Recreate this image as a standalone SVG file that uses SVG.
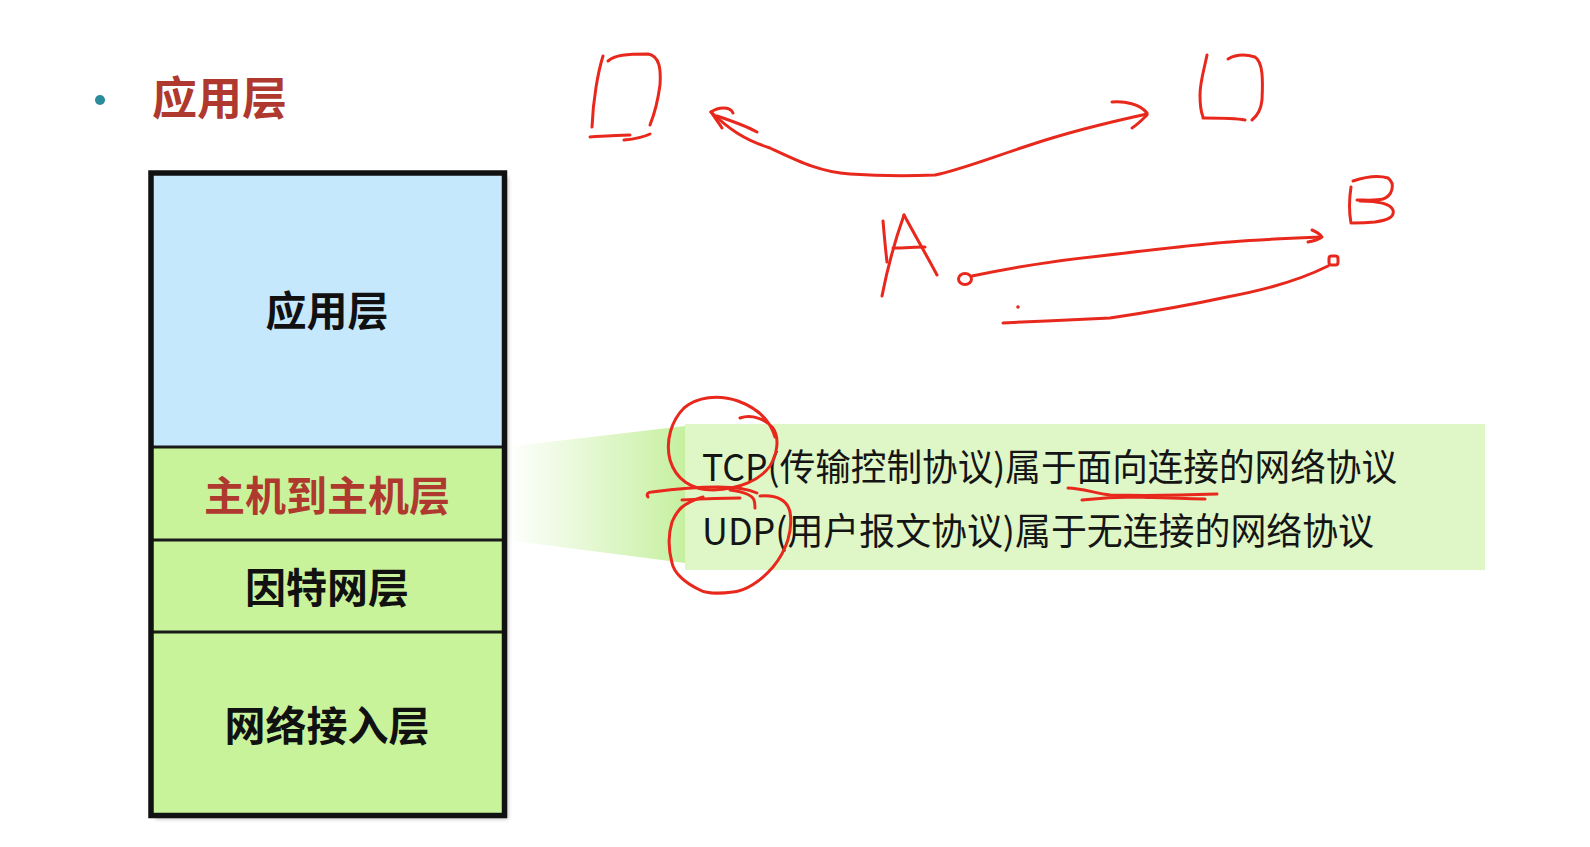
<svg xmlns="http://www.w3.org/2000/svg" width="1590" height="847" viewBox="0 0 1590 847">
  <style>
    .layer-label { font-family: "Noto Sans CJK SC", "Noto Sans", sans-serif; font-weight: 700; font-size: 41px; text-anchor: middle; dominant-baseline: central; fill: #111; }
    .red-label { fill: #B0392F; }
    .desc { font-family: "Noto Sans CJK SC", "Noto Sans", sans-serif; font-size: 37px; fill: #151515; }
    .ink { fill: none; stroke: #E8281C; stroke-width: 3; stroke-linecap: round; stroke-linejoin: round; }
    .divider { stroke: #1a1a1a; stroke-width: 3; }
  </style>
  <defs>
    <linearGradient id="wedge" x1="0" y1="0" x2="1" y2="0">
      <stop offset="0" stop-color="#C6F0A0" stop-opacity="0"/>
      <stop offset="1" stop-color="#C6F0A0" stop-opacity="1"/>
    </linearGradient>
    <filter id="shadow" x="-10%" y="-10%" width="120%" height="120%">
      <feGaussianBlur stdDeviation="2"/>
    </filter>
  </defs>
  <rect width="1590" height="847" fill="#ffffff"/>

  <!-- title -->
  <g id="title">
    <circle cx="100" cy="100" r="5" fill="#2A8C9A"/>
    <text x="152" y="95" font-family="Noto Sans CJK SC, sans-serif" font-weight="700" font-size="45" fill="#B0392F" dominant-baseline="central">应用层</text>
  </g>

  <!-- callout band -->
  <g id="callout">
    <polygon points="506,447 685,426 685,563 506,540" fill="url(#wedge)"/>
    <rect x="685" y="424" width="800" height="146" fill="#DFF7C6"/>
    <text class="desc" x="702" y="481" textLength="695" lengthAdjust="spacingAndGlyphs">TCP(传输控制协议)属于面向连接的网络协议</text>
    <text class="desc" x="702" y="545" textLength="672" lengthAdjust="spacingAndGlyphs">UDP(用户报文协议)属于无连接的网络协议</text>
  </g>

  <!-- layer stack -->
  <g id="stack">
    <rect x="155" y="177" width="353" height="642" fill="#000" opacity="0.25" filter="url(#shadow)"/>
    <g id="node-app">
      <rect x="151" y="173" width="353.5" height="274" fill="#C5E8FC"/>
      <text class="layer-label" x="327" y="308">应用层</text>
    </g>
    <g id="node-host">
      <rect x="151" y="447" width="353.5" height="93" fill="#C9F39B"/>
      <text class="layer-label red-label" x="327" y="493">主机到主机层</text>
    </g>
    <g id="node-internet">
      <rect x="151" y="540" width="353.5" height="92" fill="#C9F39B"/>
      <text class="layer-label" x="327" y="585">因特网层</text>
    </g>
    <g id="node-netaccess">
      <rect x="151" y="632" width="353.5" height="183.5" fill="#C9F39B"/>
      <text class="layer-label" x="327" y="723">网络接入层</text>
    </g>
    <line class="divider" x1="151" y1="447" x2="504.5" y2="447"/>
    <line class="divider" x1="151" y1="540" x2="504.5" y2="540"/>
    <line class="divider" x1="151" y1="632" x2="504.5" y2="632"/>
    <rect x="151" y="173" width="353.5" height="642.5" fill="none" stroke="#111" stroke-width="5.5"/>
  </g>

  <!-- handwritten annotations -->
  <g id="connectors">
    <!-- left D -->
    <path class="ink" d="M603,56 C598,72 593,100 592,127"/>
    <path class="ink" d="M608,61 C615,55 626,54 648,54 C660,56 661,70 660,85 C658,100 654,115 650,125"/>
    <path class="ink" d="M590,137 C605,136 618,135 630,135"/>
    <path class="ink" d="M624,140 C635,139 644,137 650,134"/>
    <!-- double-headed curved arrow -->
    <path class="ink" d="M711,112 C730,130 745,140 770,148 C800,162 820,172 850,174 C880,176 910,176 935,175 C960,170 990,158 1030,145 C1075,130 1110,122 1147,114"/>
    <path class="ink" d="M717,116 C735,122 748,127 757,132"/>
    <path class="ink" d="M711,112 C718,107 730,106 733,113"/>
    <path class="ink" d="M711,112 C715,118 719,123 722,128"/>
    <path class="ink" d="M1112,102 C1125,101 1140,104 1147,113"/>
    <path class="ink" d="M1147,115 C1142,120 1137,125 1132,128"/>
    <!-- right D -->
    <path class="ink" d="M1207,55 C1204,70 1200,82 1200,95 C1200,105 1201,112 1203,117"/>
    <path class="ink" d="M1203,118 C1220,118 1235,118 1245,120"/>
    <path class="ink" d="M1228,59 C1235,55 1245,54 1255,57 C1263,62 1263,80 1262,100 C1261,110 1257,116 1252,120"/>
    <!-- B -->
    <path class="ink" d="M1351,187 C1349,200 1349,212 1351,223"/>
    <path class="ink" d="M1353,181 C1365,177 1378,175 1388,178 C1396,184 1392,196 1383,199 C1375,201 1365,200 1357,200"/>
    <path class="ink" d="M1360,201 C1375,201 1390,203 1393,210 C1395,217 1388,220 1375,222 C1365,223 1358,223 1353,223"/>
    <!-- A -->
    <path class="ink" d="M904,215 C898,232 889,260 882,296"/>
    <path class="ink" d="M904,215 C915,235 928,258 937,275"/>
    <path class="ink" d="M883,221 C884,232 885,245 887,262"/>
    <path class="ink" d="M893,248 C905,248 915,247 925,247"/>
    <!-- A to B line -->
    <ellipse class="ink" cx="965" cy="279" rx="6.5" ry="5.5"/>
    <path class="ink" d="M972,276 C1010,268 1060,260 1100,256 C1150,250 1200,244 1230,242 C1265,239 1295,238 1321,237"/>
    <path class="ink" d="M1312,230 C1317,232 1320,234 1322,237 C1318,240 1313,241 1308,242"/>
    <!-- B back line -->
    <rect class="ink" x="1329" y="256" width="9" height="9" rx="2.5"/>
    <path class="ink" d="M1328,266 C1300,280 1265,290 1227,297 C1190,305 1150,312 1110,318 C1070,320 1040,321 1003,323"/>
    <circle cx="1018" cy="307" r="1.8" fill="#E8281C"/>
    <!-- circle around TCP( -->
    <path class="ink" d="M740,418 C752,414 765,419 773,428 C780,438 777,455 770,466 C760,480 740,489 713,490 C692,490 676,480 670,460 C665,440 672,420 684,408 C697,397 718,394 738,401 C757,408 770,420 775,437"/>
    <path class="ink" d="M648,497 C646,494 648,492 652,492 C675,489 700,487 718,487 C735,487 748,489 757,493"/>
    <path class="ink" d="M682,500 C700,499 720,498 740,498"/>
    <path class="ink" d="M730,490 C745,492 752,495 754,500 C755,503 755,506 755,508"/>
    <!-- circle around UDP( -->
    <path class="ink" d="M760,496 C775,495 787,499 790,512 C793,530 787,550 773,567 C760,582 745,591 733,592 C718,594 705,593 700,590 C685,583 674,573 672,563 C668,548 668,535 672,522 C677,510 683,503 703,497"/>
    <!-- underline under 面向连接 -->
    <path class="ink" d="M1068,488 C1080,488 1095,493 1110,495 C1150,496 1190,495 1217,494"/>
    <path class="ink" d="M1082,500 C1100,498 1115,497 1135,497 C1165,498 1190,499 1205,499"/>
  </g>
</svg>
